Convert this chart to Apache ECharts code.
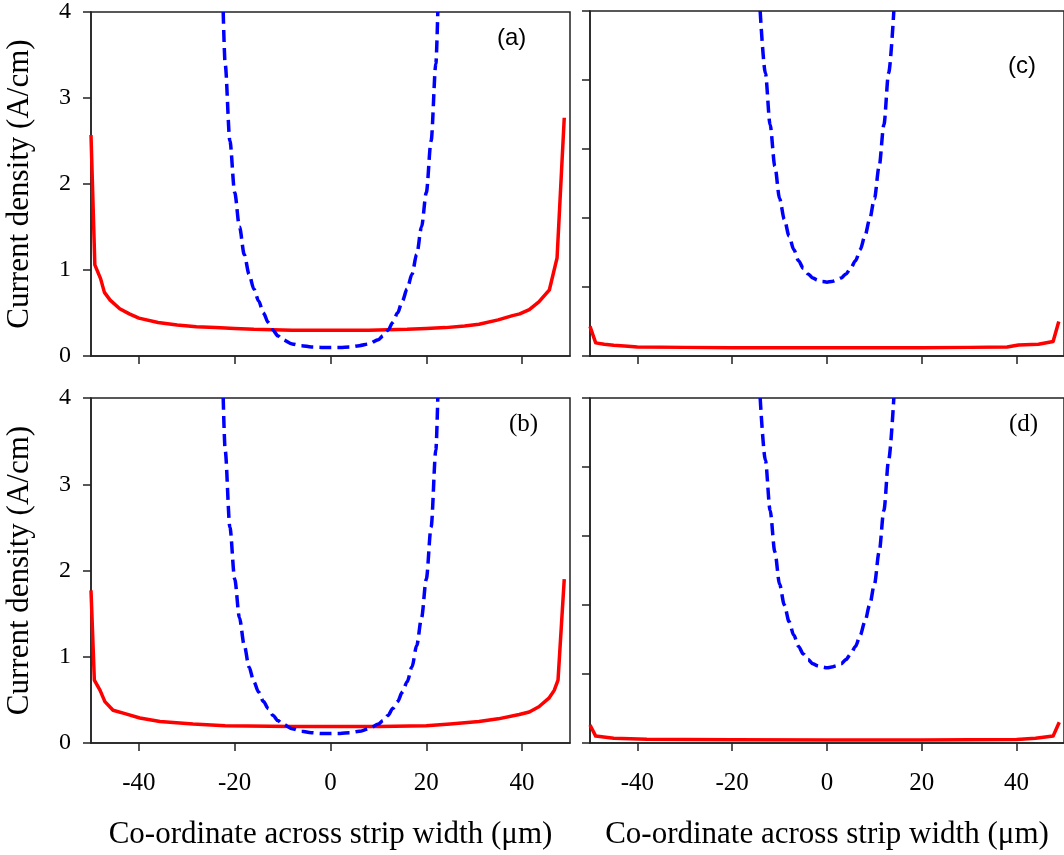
<!DOCTYPE html>
<html>
<head>
<meta charset="utf-8">
<script src="https://cdn.jsdelivr.net/npm/echarts@6/dist/echarts.min.js"></script>
<style>
  html, body { margin: 0; padding: 0; background: #fff; }
  #chart { width: 1064px; height: 855px; }
</style>
</head>
<body>
<div id="chart"></div>
<script>
// x ticks shared by all four panels
var xTicks = [-40, -20, 0, 20, 40];

// (a) top left
var redAx = [-50, -49.2, -48, -47.2, -46, -44, -42, -40, -36, -32, -28, -24, -20, -16, -12, -8, -4, 0, 4, 8, 12, 16, 20, 24, 28, 31, 35, 38, 39.5, 41.5, 43.5, 45.7, 47.3, 48.8];
var redAy = [2.57, 1.06, 0.90, 0.74, 0.65, 0.55, 0.49, 0.44, 0.39, 0.36, 0.34, 0.33, 0.32, 0.31, 0.305, 0.30, 0.30, 0.30, 0.30, 0.30, 0.305, 0.31, 0.32, 0.33, 0.35, 0.37, 0.42, 0.47, 0.49, 0.54, 0.63, 0.77, 1.14, 2.77];
var blueAx = [-22.4, -22, -21, -20, -19, -18, -17, -16, -15, -14, -13, -12, -11, -10, -8, -6, -4, -2, 0, 2, 4, 6, 8, 10, 11, 12, 13, 14, 15, 16, 17, 18, 19, 20, 21, 22, 22.4];
var blueAy = [4.0, 3.4, 2.5, 1.9, 1.5, 1.18, 0.95, 0.78, 0.64, 0.50, 0.39, 0.30, 0.235, 0.19, 0.14, 0.12, 0.105, 0.10, 0.10, 0.10, 0.105, 0.12, 0.14, 0.19, 0.235, 0.30, 0.39, 0.50, 0.64, 0.78, 0.95, 1.18, 1.5, 1.9, 2.5, 3.4, 4.0];

// (b) bottom left
var redBx = [-50, -49.3, -48.1, -47.1, -45.4, -42.9, -39.8, -35.6, -28.7, -22, -8, 0, 10, 20, 25, 31, 35, 39.4, 41.5, 43.5, 45.6, 46.7, 47.5, 48.8];
var redBy = [1.77, 0.73, 0.61, 0.48, 0.38, 0.34, 0.29, 0.25, 0.22, 0.20, 0.19, 0.19, 0.19, 0.20, 0.22, 0.25, 0.28, 0.33, 0.36, 0.42, 0.52, 0.61, 0.73, 1.90];
var blueBx = [-22.4, -22, -21, -20, -19, -18, -17, -16, -15, -14, -13, -12, -11, -10, -8, -6, -4, -2, 0, 2, 4, 6, 8, 10, 11, 12, 13, 14, 15, 16, 17, 18, 19, 20, 21, 22, 22.4];
var blueBy = [4.0, 3.4, 2.5, 1.9, 1.45, 1.13, 0.88, 0.71, 0.59, 0.48, 0.40, 0.32, 0.26, 0.22, 0.165, 0.135, 0.12, 0.11, 0.11, 0.11, 0.12, 0.135, 0.165, 0.22, 0.26, 0.32, 0.40, 0.48, 0.59, 0.71, 0.88, 1.13, 1.45, 1.9, 2.5, 3.4, 4.0];

// (c) top right
var redCx = [-50, -48.8, -47, -45, -42, -40, -30, -20, -10, 0, 10, 20, 30, 38, 40.4, 44.6, 47.7, 48.9];
var redCy = [0.43, 0.19, 0.17, 0.155, 0.14, 0.13, 0.125, 0.12, 0.12, 0.12, 0.12, 0.12, 0.125, 0.13, 0.16, 0.17, 0.21, 0.5];
var blueCx = [-14.1, -13, -12, -11, -10, -9, -8, -7, -6, -5, -4, -3, -2, -1, 0, 1, 2, 3, 4, 5, 6, 7, 8, 9, 10, 11, 12, 13, 14.1];
var blueCy = [5.0, 4.1, 3.35, 2.75, 2.28, 1.98, 1.74, 1.54, 1.38, 1.27, 1.19, 1.13, 1.10, 1.08, 1.07, 1.08, 1.10, 1.13, 1.19, 1.27, 1.38, 1.54, 1.74, 1.98, 2.28, 2.75, 3.35, 4.1, 5.0];

// (d) bottom right
var redDx = [-50, -48.8, -45, -38, -30, -20, 0, 20, 30, 40, 44, 47.7, 49];
var redDy = [0.26, 0.10, 0.07, 0.053, 0.05, 0.047, 0.045, 0.045, 0.047, 0.05, 0.07, 0.10, 0.30];
var blueDx = [-14.1, -13, -12, -11, -10, -9, -8, -7, -6, -5, -4, -3, -2, -1, 0, 1, 2, 3, 4, 5, 6, 7, 8, 9, 10, 11, 12, 13, 14.1];
var blueDy = [5.0, 4.1, 3.37, 2.77, 2.30, 2.0, 1.76, 1.56, 1.40, 1.29, 1.21, 1.15, 1.12, 1.10, 1.09, 1.10, 1.12, 1.15, 1.21, 1.29, 1.40, 1.56, 1.76, 2.0, 2.30, 2.77, 3.37, 4.1, 5.0];

function pairs(xs, ys) {
  return xs.map(function (x, i) { return [x, ys[i]]; });
}

var serif = '"Liberation Serif", "Times New Roman", serif';
var axisColor = '#222';

function makeX(idx, showLabel) {
  return {
    gridIndex: idx,
    type: 'value',
    min: -50,
    max: 50,
    name: showLabel ? 'Co-ordinate across strip width (\u03bcm)' : '',
    nameLocation: 'middle',
    nameGap: 76,
    nameTextStyle: { fontFamily: serif, fontSize: 31, color: '#000' },
    axisLine: { onZero: false, lineStyle: { color: axisColor, width: 1.5 } },
    axisTick: { show: true, length: 8, customValues: xTicks, lineStyle: { color: axisColor, width: 1.5 } },
    axisLabel: { show: showLabel, customValues: xTicks, margin: 28, fontFamily: serif, fontSize: 25, color: '#000' },
    splitLine: { show: false }
  };
}

function makeY(idx, max, showLabel) {
  return {
    gridIndex: idx,
    type: 'value',
    min: 0,
    max: max,
    interval: 1,
    name: showLabel ? 'Current density (A/cm)' : '',
    nameLocation: 'middle',
    nameGap: 56,
    nameTextStyle: { fontFamily: serif, fontSize: 31, color: '#000' },
    axisLine: { show: true, onZero: false, lineStyle: { color: axisColor, width: 1.5 } },
    axisTick: { show: true, length: 8, lineStyle: { color: axisColor, width: 1.5 } },
    axisLabel: { show: showLabel, margin: 20, fontFamily: serif, fontSize: 24, color: '#000' },
    splitLine: { show: false }
  };
}

function redLine(idx, data) {
  return {
    type: 'line', xAxisIndex: idx, yAxisIndex: idx, data: data,
    showSymbol: false, smooth: false,
    lineStyle: { color: '#ff0000', width: 3.5, join: 'round' }
  };
}

function blueLine(idx, data) {
  return {
    type: 'line', xAxisIndex: idx, yAxisIndex: idx, data: data,
    showSymbol: false, smooth: 0.3, smoothMonotone: 'x',
    lineStyle: { color: '#0000ff', width: 3.5, type: [12, 6] }
  };
}

var gridBase = { show: true, borderColor: axisColor, borderWidth: 1.5, width: 479, height: 345, containLabel: false };

var chart = echarts.init(document.getElementById('chart'));
chart.setOption({
  backgroundColor: '#fff',
  animation: false,
  grid: [
    Object.assign({ left: 91, top: 11 }, gridBase),
    Object.assign({ left: 590, top: 11 }, gridBase),
    Object.assign({ left: 91, top: 398 }, gridBase),
    Object.assign({ left: 590, top: 398 }, gridBase)
  ],
  xAxis: [makeX(0, false), makeX(1, false), makeX(2, true), makeX(3, true)],
  yAxis: [makeY(0, 4, true), makeY(1, 5, false), makeY(2, 4, true), makeY(3, 5, false)],
  series: [
    redLine(0, pairs(redAx, redAy)),
    blueLine(0, pairs(blueAx, blueAy)),
    redLine(1, pairs(redCx, redCy)),
    blueLine(1, pairs(blueCx, blueCy)),
    redLine(2, pairs(redBx, redBy)),
    blueLine(2, pairs(blueBx, blueBy)),
    redLine(3, pairs(redDx, redDy)),
    blueLine(3, pairs(blueDx, blueDy))
  ],
  graphic: [
    { type: 'text', left: 497, top: 26, style: { text: '(a)', font: '24px "Liberation Sans", Arial, sans-serif', fill: '#000' } },
    { type: 'text', left: 1008, top: 54, style: { text: '(c)', font: '24px "Liberation Sans", Arial, sans-serif', fill: '#000' } },
    { type: 'text', left: 509, top: 412, style: { text: '(b)', font: '25px "Liberation Serif", "Times New Roman", serif', fill: '#000' } },
    { type: 'text', left: 1009, top: 412, style: { text: '(d)', font: '25px "Liberation Serif", "Times New Roman", serif', fill: '#000' } }
  ]
});
</script>
</body>
</html>
